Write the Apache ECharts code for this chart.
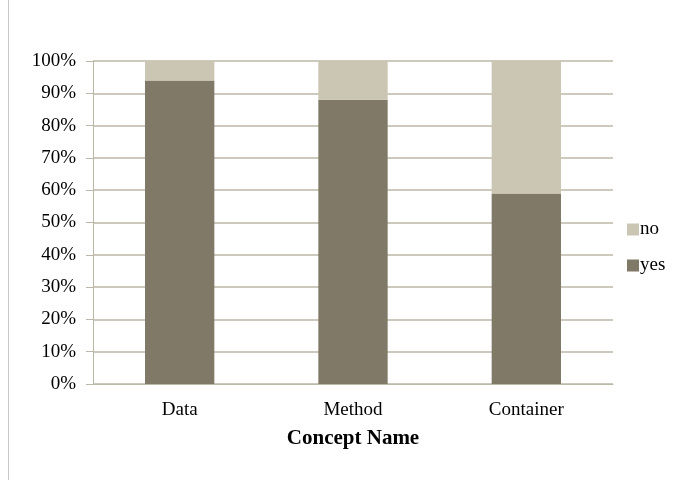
<!DOCTYPE html>
<html>
<head>
<meta charset="utf-8">
<script src="https://cdn.jsdelivr.net/npm/echarts@6/dist/echarts.min.js"></script>
<style>
  html, body { margin: 0; padding: 0; background: #fff; }
  #chart { width: 678px; height: 480px; }
</style>
</head>
<body>
<div id="chart"></div>
<script>
// values
const categories = ['Data', 'Method', 'Container'];
const yesValues = [94, 88, 59];
const noValues = [6, 12, 41];

const font = '"Liberation Serif", "Times New Roman", serif';
const gridColor = '#bdb7a7';

const chart = echarts.init(document.getElementById('chart'));
chart.setOption({
  animation: false,
  textStyle: { fontFamily: font, color: '#000' },
  graphic: [{
    type: 'line',
    shape: { x1: 8.5, y1: 0, x2: 8.5, y2: 480 },
    style: { stroke: '#c8c8c8', lineWidth: 1 }
  }],
  grid: { left: 93, right: 65, top: 61, bottom: 96 },
  legend: {
    orient: 'vertical',
    left: 622,
    top: 215,
    itemWidth: 12,
    itemHeight: 12,
    itemGap: 17,
    icon: 'rect',
    data: ['no', 'yes'],
    textStyle: { fontFamily: font, fontSize: 19, color: '#000', padding: [0, 0, 0, -4] }
  },
  xAxis: {
    type: 'category',
    data: categories,
    name: 'Concept Name',
    nameLocation: 'middle',
    nameGap: 44,
    nameTextStyle: { fontFamily: font, fontSize: 21, fontWeight: 'bold', color: '#000' },
    axisLine: { lineStyle: { color: gridColor } },
    axisTick: { length: 5, lineStyle: { color: gridColor } },
    axisLabel: { fontFamily: font, fontSize: 19, color: '#000', margin: 17 }
  },
  yAxis: {
    type: 'value',
    min: 0,
    max: 100,
    interval: 10,
    axisLine: { show: true, lineStyle: { color: gridColor } },
    axisTick: { show: true, length: 7, lineStyle: { color: gridColor } },
    axisLabel: { formatter: '{value}%', fontFamily: font, fontSize: 19, color: '#000', margin: 17 },
    splitLine: { lineStyle: { color: gridColor, width: 1.5 } }
  },
  series: [
    {
      name: 'yes',
      type: 'bar',
      stack: 'total',
      data: yesValues,
      barWidth: '40%',
      itemStyle: { color: '#807967' }
    },
    {
      name: 'no',
      type: 'bar',
      stack: 'total',
      data: noValues,
      barWidth: '40%',
      itemStyle: { color: '#cbc5b3' }
    }
  ]
});
</script>
</body>
</html>
